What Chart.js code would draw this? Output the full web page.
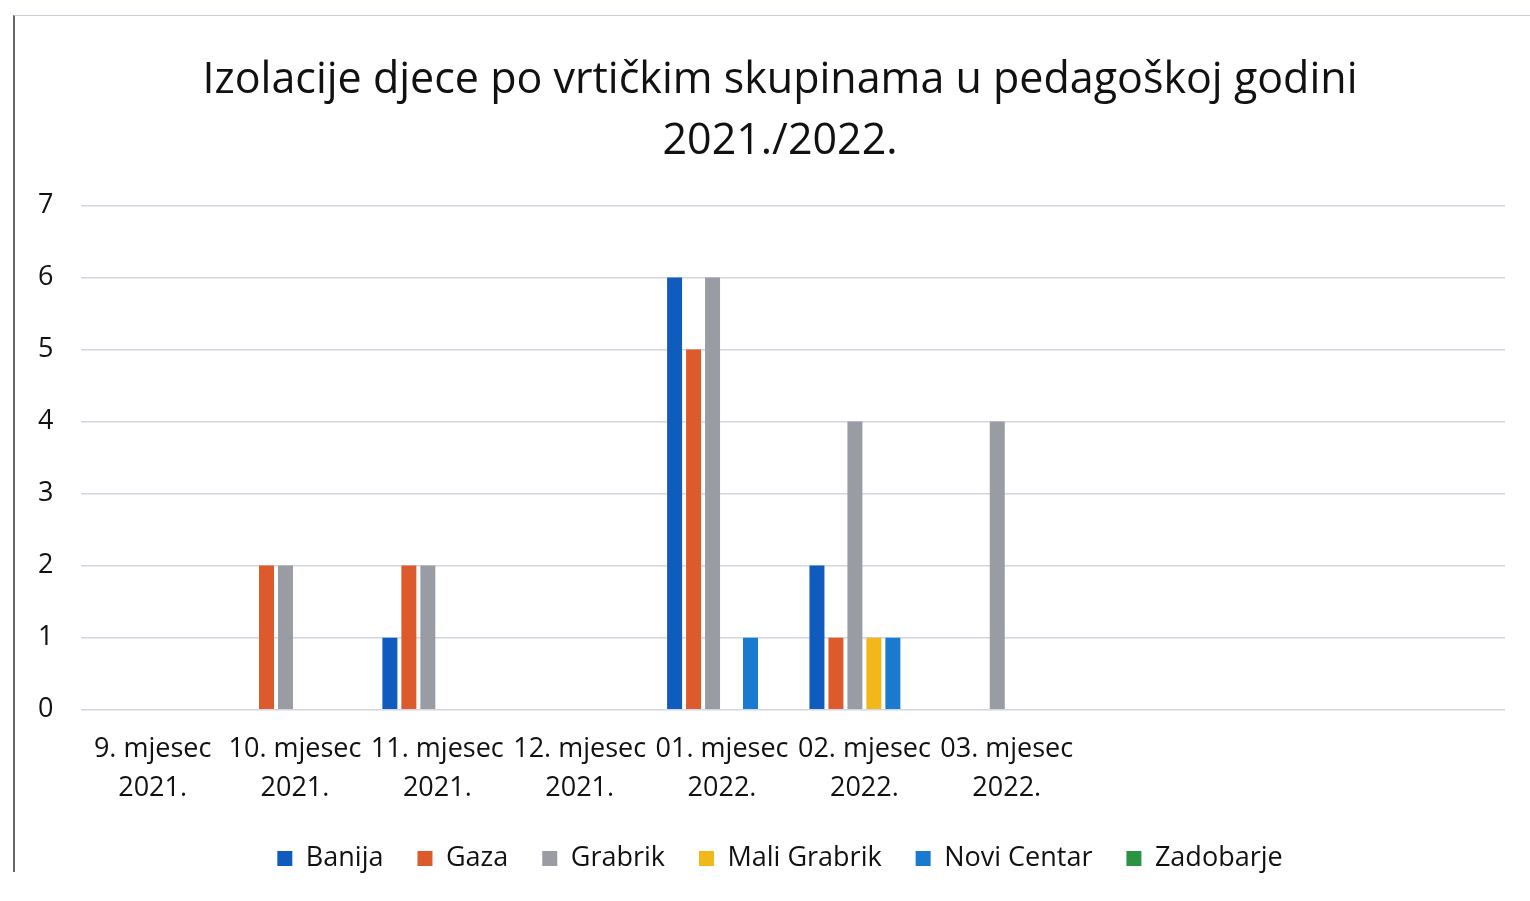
<!DOCTYPE html>
<html lang="hr">
<head>
  <meta charset="UTF-8">
  <title>Izolacije djece po vrtićkim skupinama</title>
  <script src="https://cdn.jsdelivr.net/npm/chart.js"></script>
  <style>
    html, body { margin: 0; padding: 0; background: #fff; }
    #wrap { position: relative; width: 1530px; height: 901px; }
    #okvir {
      position: absolute; left: 13px; top: 15px; width: 1520px; height: 856px;
      border-left: 2px solid #666; border-top: 1px solid #c8ccd6;
      pointer-events: none;
    }
  </style>
</head>
<body>
  <div id="wrap">
    <canvas id="grafik" width="1530" height="901"></canvas>
    <div id="okvir"></div>
  </div>

  <script>
    // Podaci
    const mjeseci = [
      ['9. mjesec', '2021.'], ['10. mjesec', '2021.'], ['11. mjesec', '2021.'],
      ['12. mjesec', '2021.'], ['01. mjesec', '2022.'], ['02. mjesec', '2022.'],
      ['03. mjesec', '2022.'], '', '', ''
    ];
    const banija      = [0, 0, 1, 0, 6, 2, 0, 0, 0, 0];
    const gaza        = [0, 2, 2, 0, 5, 1, 0, 0, 0, 0];
    const grabrik     = [0, 2, 2, 0, 6, 4, 4, 0, 0, 0];
    const maliGrabrik = [0, 0, 0, 0, 0, 1, 0, 0, 0, 0];
    const noviCentar  = [0, 0, 0, 0, 1, 1, 0, 0, 0, 0];
    const zadobarje   = [0, 0, 0, 0, 0, 0, 0, 0, 0, 0];

    const font = "'Open Sans', sans-serif";

    function serija(naziv, podaci, boja) {
      return {
        label: naziv, data: podaci, backgroundColor: boja, borderWidth: 0,
        categoryPercentage: 0.8, barPercentage: 0.79
      };
    }

    // y os ima uski okvir, pa joj lijevi rub pomičemo da oznake ne budu odrezane
    const osLijevo = {
      id: 'osLijevo',
      afterLayout(chart) { chart.scales.y.left = 20; }
    };

    const ctx = document.getElementById('grafik').getContext('2d');
    new Chart(ctx, {
      type: 'bar',
      data: {
        labels: mjeseci,
        datasets: [
          serija('Banija', banija, '#0f5cbe'),
          serija('Gaza', gaza, '#dc5a2c'),
          serija('Grabrik', grabrik, '#9a9ca4'),
          serija('Mali Grabrik', maliGrabrik, '#f2b81a'),
          serija('Novi Centar', noviCentar, '#1a7ad0'),
          serija('Zadobarje', zadobarje, '#2b9443')
        ]
      },
      plugins: [osLijevo],
      options: {
        responsive: false,
        animation: false,
        layout: { padding: { left: 55, right: 25, top: 0, bottom: 19 } },
        plugins: {
          title: {
            display: true,
            text: ['Izolacije djece po vrtičkim skupinama u pedagoškoj godini', '2021./2022.'],
            color: '#111',
            font: { family: font, size: 43, weight: 'normal', lineHeight: 1.4 },
            padding: { top: 51, bottom: 34 }
          },
          legend: {
            position: 'bottom',
            labels: {
              color: '#111',
              boxWidth: 15, boxHeight: 15,
              padding: 34,
              font: { family: font, size: 27 }
            }
          },
          tooltip: { enabled: false }
        },
        scales: {
          x: {
            grid: { display: false },
            border: { display: false },
            afterFit: s => { s.height -= 9; },
            ticks: {
              color: '#111', maxRotation: 0, autoSkip: false, padding: 12,
              font: { family: font, size: 27, lineHeight: 1.45 }
            }
          },
          y: {
            min: 0, max: 7,
            grid: { color: '#d2d6e0', lineWidth: 1.5, drawTicks: false },
            border: { display: false },
            afterFit: s => { s.width -= 45; },
            ticks: {
              stepSize: 1, color: '#111', padding: 28,
              font: { family: font, size: 27 }
            }
          }
        }
      }
    });
  </script>
</body>
</html>
